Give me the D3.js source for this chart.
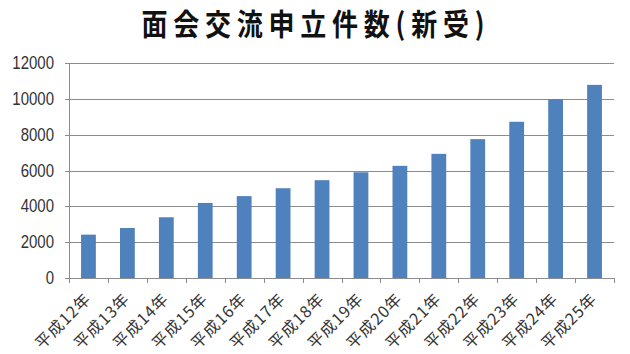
<!DOCTYPE html>
<html>
<head>
<meta charset="utf-8">
<script src="https://cdn.jsdelivr.net/npm/d3@7"></script>
<style>
  body { margin: 0; background: #fff; }
  svg { display: block; }
  .grid line { stroke: #8c8c8c; stroke-width: 1; }
  .ylab { font-family: "Liberation Sans", Arial, sans-serif; font-size: 15px; fill: #333; }
  .xlab { font-family: "Noto Sans CJK JP", sans-serif; font-size: 16px; fill: #333; letter-spacing: 1px; }
</style>
</head>
<body>
<div id="chart"></div>
<script>
const svgWidth = 630;
const svgHeight = 354;

// data
const title = "面会交流申立件数(新受)";
const categories = ["平成12年","平成13年","平成14年","平成15年","平成16年","平成17年","平成18年",
                    "平成19年","平成20年","平成21年","平成22年","平成23年","平成24年","平成25年"];
const values = [2420, 2790, 3390, 4190, 4570, 5010, 5460, 5900, 6260, 6930, 7750, 8720, 9980, 10780];
const yTicks = [0, 2000, 4000, 6000, 8000, 10000, 12000];

const plot = {left: 69, right: 614, top: 63, bottom: 278};

document.addEventListener("DOMContentLoaded", function(event){
  drawChart();
});

function drawChart(){
  const svg = d3.select("#chart")
    .append("svg")
    .attr("width", svgWidth)
    .attr("height", svgHeight);

  const xscale = d3.scaleBand()
    .domain(categories)
    .range([plot.left, plot.right]);

  const yscale = d3.scaleLinear()
    .domain([0, 12000])
    .range([plot.bottom, plot.top]);

  // title (slightly stretched vertically like the source image)
  svg.append("text")
    .attr("transform", "translate(313,35) scale(1,1.15)")
    .attr("text-anchor", "middle")
    .attr("font-family", "'Noto Sans CJK JP', sans-serif")
    .attr("font-weight", "bold")
    .attr("font-size", 26)
    .attr("fill", "#111")
    .attr("textLength", 343)
    .attr("lengthAdjust", "spacing")
    .text(title);

  // gridlines + y ticks (ticks stick out to the left)
  const grid = svg.append("g").attr("class", "grid");
  grid.selectAll("line")
    .data(yTicks)
    .join("line")
    .attr("x1", plot.left - 4)
    .attr("x2", plot.right)
    .attr("y1", d => Math.round(yscale(d)) + 0.5)
    .attr("y2", d => Math.round(yscale(d)) + 0.5);

  // y axis line
  grid.append("line")
    .attr("x1", plot.left + 0.5).attr("x2", plot.left + 0.5)
    .attr("y1", plot.top).attr("y2", plot.bottom + 5);

  // x ticks between categories
  const bounds = categories.map(c => xscale(c)).concat([plot.right]);
  grid.selectAll("line.xt")
    .data(bounds)
    .join("line")
    .attr("class", "xt")
    .attr("x1", d => Math.round(d) + 0.5)
    .attr("x2", d => Math.round(d) + 0.5)
    .attr("y1", plot.bottom)
    .attr("y2", plot.bottom + 5);

  // y labels
  svg.selectAll("text.ylab")
    .data(yTicks)
    .join("text")
    .attr("class", "ylab")
    .attr("text-anchor", "end")
    .attr("transform", d => "translate(54," + (yscale(d) + 6) + ") scale(1,1.2)")
    .text(d => d);

  // bars
  const bw = xscale.bandwidth();
  svg.selectAll("rect.bar")
    .data(values)
    .join("rect")
    .attr("class", "bar")
    .attr("x", (d, i) => xscale(categories[i]) + bw * 0.31)
    .attr("width", bw * 0.38)
    .attr("y", d => yscale(d))
    .attr("height", d => yscale(0) - yscale(d))
    .attr("fill", "#4f81bd");

  // rotated x labels
  svg.selectAll("text.xlab")
    .data(categories)
    .join("text")
    .attr("class", "xlab")
    .attr("text-anchor", "end")
    .attr("transform", d => "translate(" + (xscale(d) + bw / 2 + 3.5) + ",300) rotate(-45)")
    .text(d => d);
}
</script>
</body>
</html>
